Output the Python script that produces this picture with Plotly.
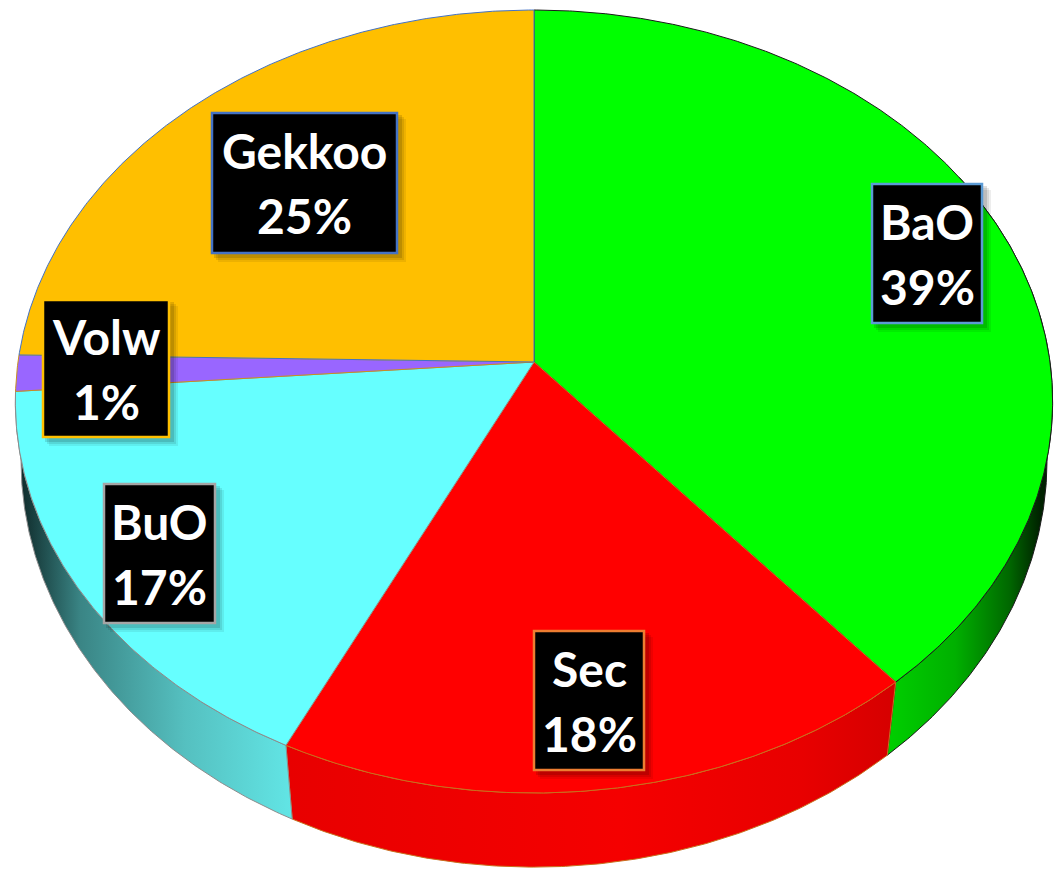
import numpy as np
import plotly.graph_objects as go

# ---- data ----
labels = ["BaO", "Sec", "BuO", "Volw", "Gekkoo"]
values = [38.8, 18.4, 16.6, 1.49, 24.71]
face_colors = ["#00FF00", "#FF0000", "#66FFFF", "#9966FF", "#FFBF00"]
edge_colors = ["#1A1A1A", "#C8701E", "#8C8C8C", "#C8901E", "#4472C4"]
box_borders = ["#5B9BD5", "#ED7D31", "#A5A5A5", "#FFC000", "#4472C4"]

# ---- layout of the label boxes: x0, x1, y0, y1 in figure pixels ----
label_boxes = [
    (872, 982, 184, 323),
    (534, 644, 631, 770),
    (104, 215, 484, 623),
    (43, 169, 300, 437),
    (212, 397, 113, 253),
]

# ---- side shading (gradient bands, left to right) ----
side_styles = {
    0: dict(start=886, stop=1040, colorscale=[[0, "#00D000"], [0.45, "#00B000"], [0.8, "#006800"], [1, "#002200"]]),
    1: dict(start=287, stop=893, colorscale=[[0, "#E80000"], [0.55, "#F50000"], [0.85, "#E80000"], [1, "#D60000"]]),
    2: dict(start=20, stop=295, colorscale=[[0, "#0F2A2A"], [0.22, "#3A8585"], [0.6, "#55C0C0"], [1, "#62E6E6"]]),
}

# ---- perspective projection of a disc ----
K = 0.1009
CX = 534.0
TOP = dict(c=516.0, a=387.5, y0=362.0)
BOTTOM = dict(c=510.4, a=402.9, y0=419.0)
SEAM_LEAN = 0.984  # the lower rim converges slightly towards the front


def project(theta_deg, p):
    t = np.radians(theta_deg)
    d = 1 + K * np.cos(t)
    return CX + p["c"] * np.sin(t) / d, p["y0"] - p["a"] * np.cos(t) / d


bounds = np.concatenate([[0], np.cumsum(values)]) * 360.0 / sum(values)

fig = go.Figure()

# sides
for i, lab in enumerate(labels):
    a0, a1 = max(bounds[i], 60.0), min(bounds[i + 1], 300.0)
    if a1 <= a0 or i not in side_styles:
        continue
    th = np.linspace(a0, a1, 160)
    xt, yt = project(th, TOP)
    xb, yb = project(180 + (th[::-1] - 180) * SEAM_LEAN, BOTTOM)
    s = side_styles[i]
    fig.add_trace(go.Scatter(
        x=np.r_[xt, xb, xt[0]], y=np.r_[yt, yb, yt[0]], mode="lines",
        fill="toself", line=dict(color=edge_colors[i], width=1),
        fillgradient=dict(type="horizontal", start=s["start"], stop=s["stop"], colorscale=s["colorscale"]),
        hoverinfo="skip", showlegend=False))

# top faces
for i, lab in enumerate(labels):
    th = np.linspace(bounds[i], bounds[i + 1], max(int(bounds[i + 1] - bounds[i]) * 3, 12))
    xt, yt = project(th, TOP)
    fig.add_trace(go.Scatter(
        x=np.r_[CX, xt, CX], y=np.r_[TOP["y0"], yt, TOP["y0"]], mode="lines",
        fill="toself", fillcolor=face_colors[i], line=dict(color=edge_colors[i], width=1),
        name=lab, hoverinfo="skip", showlegend=False))

shapes, annotations = [], []
for i, lab in enumerate(labels):
    x0, x1, y0, y1 = label_boxes[i]
    # soft drop shadow
    for off, alpha in ((9, 0.07), (7, 0.09), (5, 0.12)):
        shapes.append(dict(type="rect", xref="x", yref="y", x0=x0 + off - 3, x1=x1 + off, y0=y0 + off - 3, y1=y1 + off,
                           fillcolor=f"rgba(0,0,0,{alpha})", line=dict(width=0), layer="above"))
    shapes.append(dict(type="rect", xref="x", yref="y", x0=x0, x1=x1, y0=y0, y1=y1,
                       fillcolor="#000000", line=dict(color=box_borders[i], width=2.5), layer="above"))
    xc, yc = (x0 + x1) / 2, (y0 + y1) / 2
    for text, dy in ((lab, -32.5), (f"{values[i]:.0f}%", 32.5)):
        annotations.append(dict(x=xc, y=yc + dy, xref="x", yref="y", text=text, showarrow=False,
                                xanchor="center", yanchor="middle",
                                font=dict(family="Lato", size=48, color="#FFFFFF", weight="bold")))

fig.update_layout(
    width=1063, height=872, margin=dict(l=0, r=0, t=0, b=0), autosize=False,
    paper_bgcolor="#FFFFFF", plot_bgcolor="#FFFFFF", showlegend=False,
    xaxis=dict(range=[0, 1063], visible=False, fixedrange=True),
    yaxis=dict(range=[872, 0], visible=False, fixedrange=True),
    shapes=shapes, annotations=annotations,
)

fig.write_html("out.html", config={"displayModeBar": False},
               post_script="document.body.style.margin='0';document.body.style.overflow='hidden';")
